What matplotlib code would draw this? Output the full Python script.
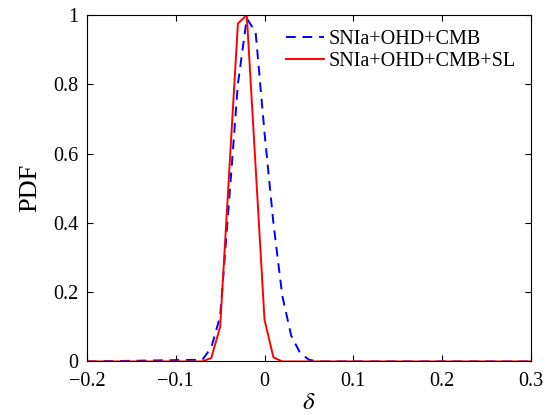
import matplotlib
matplotlib.use("Agg")
import matplotlib.pyplot as plt

# values
delta_cmb = [-0.2, -0.07, -0.06, -0.05, -0.04, -0.03, -0.02, -0.01,
             0.0, 0.01, 0.02, 0.03, 0.04, 0.05, 0.06, 0.3]
pdf_cmb = [0.0, 0.005, 0.04, 0.13, 0.46, 0.80, 0.99, 0.95,
           0.66, 0.40, 0.19, 0.075, 0.025, 0.005, 0.0, 0.0]

delta_sl = [-0.2, -0.07, -0.06, -0.05, -0.03, -0.02, 0.0, 0.01, 0.02, 0.3]
pdf_sl = [0.0, 0.0, 0.01, 0.10, 0.975, 1.0, 0.12, 0.012, 0.0, 0.0]

labels = ["SNIa+OHD+CMB", "SNIa+OHD+CMB+SL"]
xticks = [-0.2, -0.1, 0, 0.1, 0.2, 0.3]
yticks = [0, 0.2, 0.4, 0.6, 0.8, 1]

plt.rcParams["font.family"] = ["Liberation Serif", "DejaVu Serif"]
plt.rcParams["mathtext.fontset"] = "stix"

fig = plt.figure(figsize=(5.52, 4.15), dpi=100)
ax = fig.add_axes([0.1576, 0.129, 0.804, 0.835])

ax.plot(delta_cmb, pdf_cmb, color="blue", lw=1.4, ls=(0, (5, 3.5)), label=labels[0])
ax.plot(delta_sl, pdf_sl, color="red", lw=1.4, label=labels[1])

ax.set_xlim(-0.2, 0.3)
ax.set_ylim(0, 1)
ax.set_xticks(xticks)
ax.set_yticks(yticks)
ax.set_xticklabels(["\u22120.2", "\u22120.1", "0", "0.1", "0.2", "0.3"])
ax.set_yticklabels(["0", "0.2", "0.4", "0.6", "0.8", "1"])
ax.tick_params(direction="in", top=True, right=True, labelsize=14.5, length=4)
ax.tick_params(axis="x", pad=7.5)
ax.tick_params(axis="y", pad=6)

ax.set_xlabel(r"$\delta$", fontsize=18, labelpad=1)
ax.set_ylabel("PDF", fontsize=19, labelpad=9)

ax.legend(loc="upper right", frameon=False, fontsize=14.5, handlelength=1.85,
          handletextpad=0.25, borderaxespad=0.45, borderpad=0.3, labelspacing=0.15)

fig.savefig("out.png", dpi=100)
